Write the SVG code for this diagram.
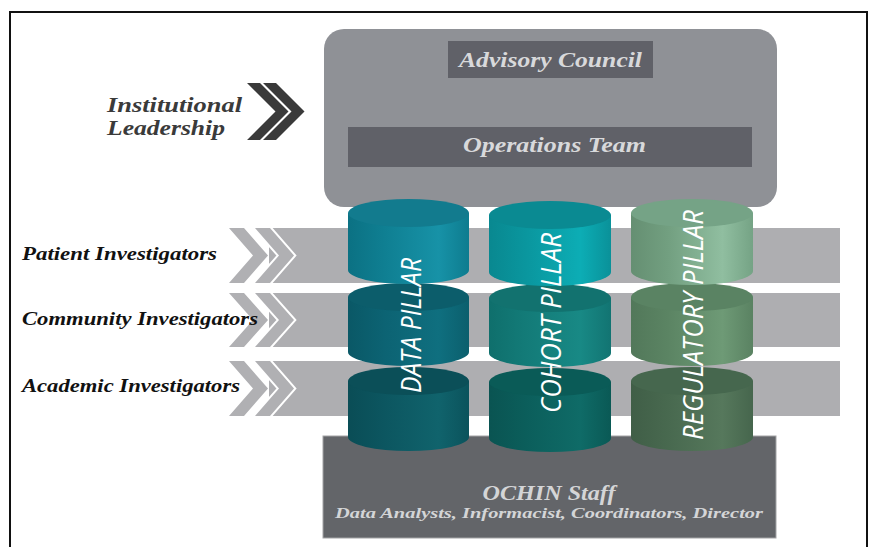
<svg xmlns="http://www.w3.org/2000/svg" width="873" height="547" viewBox="0 0 873 547">
<defs>
<style>
.serif{font-family:"Liberation Serif","DejaVu Serif",serif;font-weight:bold;font-style:italic}
.lbl{font-size:18px;fill:#111}
.lead{font-size:20px;fill:#3a3a3a}
.boxt{font-size:20px;fill:#d8d9db}
.pillar{font-family:"Open Sans","Liberation Sans",sans-serif;font-style:italic;font-weight:400;font-size:27px;fill:#ffffff}
.band{fill:#aeaeb1}
.lchev{fill:#b0b0b3}
.lchevb{fill:#b0b0b3;stroke:#ffffff;stroke-width:4;paint-order:stroke}
.dchev{fill:#3a3a3a}
</style>
<linearGradient id="d1" x1="0" x2="1" y1="0" y2="0"><stop offset="0" stop-color="#0b7183"/><stop offset="0.3" stop-color="#0f7f92"/><stop offset="0.75" stop-color="#1792a7"/><stop offset="1" stop-color="#0e7c8f"/></linearGradient>
<linearGradient id="d2" x1="0" x2="1" y1="0" y2="0"><stop offset="0" stop-color="#0a5866"/><stop offset="0.3" stop-color="#0c6373"/><stop offset="0.75" stop-color="#0f6f7f"/><stop offset="1" stop-color="#0b5f6d"/></linearGradient>
<linearGradient id="d3" x1="0" x2="1" y1="0" y2="0"><stop offset="0" stop-color="#0a4d56"/><stop offset="0.3" stop-color="#0c5660"/><stop offset="0.75" stop-color="#10636c"/><stop offset="1" stop-color="#0b535c"/></linearGradient>
<linearGradient id="c1" x1="0" x2="1" y1="0" y2="0"><stop offset="0" stop-color="#098890"/><stop offset="0.3" stop-color="#0a969e"/><stop offset="0.75" stop-color="#0cadb5"/><stop offset="1" stop-color="#0a9199"/></linearGradient>
<linearGradient id="c2" x1="0" x2="1" y1="0" y2="0"><stop offset="0" stop-color="#0f6f6c"/><stop offset="0.3" stop-color="#137b78"/><stop offset="0.75" stop-color="#188985"/><stop offset="1" stop-color="#127472"/></linearGradient>
<linearGradient id="c3" x1="0" x2="1" y1="0" y2="0"><stop offset="0" stop-color="#0a5452"/><stop offset="0.3" stop-color="#0b5e5b"/><stop offset="0.75" stop-color="#0f6b67"/><stop offset="1" stop-color="#0a5955"/></linearGradient>
<linearGradient id="r1" x1="0" x2="1" y1="0" y2="0"><stop offset="0" stop-color="#658f72"/><stop offset="0.3" stop-color="#729f80"/><stop offset="0.75" stop-color="#90bea0"/><stop offset="1" stop-color="#75a385"/></linearGradient>
<linearGradient id="r2" x1="0" x2="1" y1="0" y2="0"><stop offset="0" stop-color="#52785a"/><stop offset="0.3" stop-color="#5b8463"/><stop offset="0.75" stop-color="#6e9a76"/><stop offset="1" stop-color="#5a8262"/></linearGradient>
<linearGradient id="r3" x1="0" x2="1" y1="0" y2="0"><stop offset="0" stop-color="#405e47"/><stop offset="0.3" stop-color="#48694f"/><stop offset="0.75" stop-color="#56785c"/><stop offset="1" stop-color="#46664d"/></linearGradient>
</defs>

<rect x="10" y="12" width="857" height="550" fill="#ffffff" stroke="#111111" stroke-width="2"/>

<g id="governance">
<rect x="324" y="29" width="453" height="178" rx="20" fill="#8f9196"/>
<g id="advisory-council">
<rect x="448" y="41" width="205" height="37" fill="#606168"/>
<text class="serif boxt" x="459" y="67" textLength="183" lengthAdjust="spacingAndGlyphs">Advisory Council</text>
</g>
<g id="operations-team">
<rect x="348" y="127" width="404" height="40" fill="#606168"/>
<text class="serif boxt" x="463" y="152" textLength="183" lengthAdjust="spacingAndGlyphs">Operations Team</text>
</g>
</g>

<g id="institutional-leadership">
<text class="serif lead" x="107" y="112" textLength="135" lengthAdjust="spacingAndGlyphs">Institutional</text>
<text class="serif lead" x="107" y="135" textLength="118" lengthAdjust="spacingAndGlyphs">Leadership</text>
</g>

<g id="connectors">
<polygon class="dchev" points="247,83 260,83 288.5,111.5 260,140 247,140 275.5,111.5"/>
<polygon class="dchev" points="263,83 276,83 304.5,111.5 276,140 263,140 291.5,111.5"/>

<rect class="band" x="269" y="228" width="571" height="55"/>
<rect class="band" x="269" y="293" width="571" height="54"/>
<rect class="band" x="269" y="361" width="571" height="55"/>

<polygon class="lchev" points="229,228 244,228 268,255.5 244,283 229,283 253,255.5"/>
<polygon class="lchevb" points="255,228 270,228 294,255.5 270,283 255,283 279,255.5"/>
<polygon class="lchev" points="229,293 244,293 268,320 244,347 229,347 253,320"/>
<polygon class="lchevb" points="255,293 270,293 294,320 270,347 255,347 279,320"/>
<polygon class="lchev" points="229,361 244,361 268,388.5 244,416 229,416 253,388.5"/>
<polygon class="lchevb" points="255,361 270,361 294,388.5 270,416 255,416 279,388.5"/>
</g>

<g id="investigators">
<text class="serif lbl" x="22" y="260" textLength="195" lengthAdjust="spacingAndGlyphs">Patient Investigators</text>
<text class="serif lbl" x="22" y="325" textLength="236" lengthAdjust="spacingAndGlyphs">Community Investigators</text>
<text class="serif lbl" x="22" y="392" textLength="218" lengthAdjust="spacingAndGlyphs">Academic Investigators</text>
</g>

<g id="ochin-staff">
<rect x="323" y="436" width="453" height="102" fill="#636569" stroke="#a3a4a6" stroke-width="1"/>
<text class="serif" x="549" y="500" text-anchor="middle" font-size="21" fill="#d4d5d7" textLength="133" lengthAdjust="spacingAndGlyphs">OCHIN Staff</text>
<text class="serif" x="549" y="518" text-anchor="middle" font-size="15.5" fill="#d4d5d7" textLength="428" lengthAdjust="spacingAndGlyphs">Data Analysts, Informacist, Coordinators, Director</text>
</g>

<g id="data-pillar">
<path d="M348,381 V437 A60.5,14 0 0 0 469,437 V381 Z" fill="url(#d3)"/>
<ellipse cx="408.5" cy="381" rx="60.5" ry="14" fill="#0b4f58"/>
<path d="M348,297 V352 A60.5,14 0 0 0 469,352 V297 Z" fill="url(#d2)"/>
<ellipse cx="408.5" cy="297" rx="60.5" ry="14" fill="#0c5d6b"/>
<path d="M348,213 V270 A60.5,14 0 0 0 469,270 V213 Z" fill="url(#d1)"/>
<ellipse cx="408.5" cy="213" rx="60.5" ry="14" fill="#127b8e"/>
<text class="pillar" transform="translate(421,325.5) rotate(-90)" text-anchor="middle" textLength="135" lengthAdjust="spacingAndGlyphs">DATA PILLAR</text>
</g>

<g id="cohort-pillar">
<path d="M489,382 V438 A61,14 0 0 0 611,438 V382 Z" fill="url(#c3)"/>
<ellipse cx="550" cy="382" rx="61" ry="14" fill="#0a5b57"/>
<path d="M489,298 V353 A61,14 0 0 0 611,353 V298 Z" fill="url(#c2)"/>
<ellipse cx="550" cy="298" rx="61" ry="14" fill="#12726f"/>
<path d="M489,215 V272 A61,14 0 0 0 611,272 V215 Z" fill="url(#c1)"/>
<ellipse cx="550" cy="215" rx="61" ry="14" fill="#0a8a92"/>
<text class="pillar" transform="translate(561,323) rotate(-90)" text-anchor="middle" textLength="180" lengthAdjust="spacingAndGlyphs">COHORT PILLAR</text>
</g>

<g id="regulatory-pillar">
<path d="M631,381 V437 A61,14 0 0 0 753,437 V381 Z" fill="url(#r3)"/>
<ellipse cx="692" cy="381" rx="61" ry="14" fill="#46674e"/>
<path d="M631,297 V352 A61,14 0 0 0 753,352 V297 Z" fill="url(#r2)"/>
<ellipse cx="692" cy="297" rx="61" ry="14" fill="#5a8363"/>
<path d="M631,213 V271 A61,14 0 0 0 753,271 V213 Z" fill="url(#r1)"/>
<ellipse cx="692" cy="213" rx="61" ry="14" fill="#75a386"/>
<text class="pillar" transform="translate(703,325) rotate(-90)" text-anchor="middle" textLength="230" lengthAdjust="spacingAndGlyphs">REGULATORY PILLAR</text>
</g>
</svg>
